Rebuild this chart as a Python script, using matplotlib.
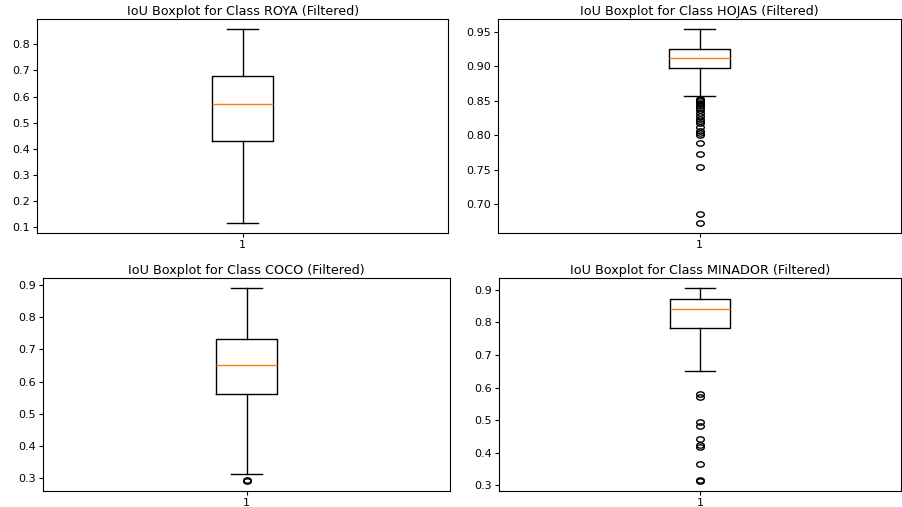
import numpy as np
import matplotlib.pyplot as plt
from matplotlib.path import Path
from matplotlib.transforms import Affine2D

classes = ['ROYA', 'HOJAS', 'COCO', 'MINADOR']

# five-number summaries per class (IoU)
q1 = [0.430, 0.8975, 0.560, 0.783]
med = [0.572, 0.9125, 0.651, 0.840]
q3 = [0.677, 0.9246, 0.731, 0.8725]
whislo = [0.113, 0.857, 0.313, 0.652]
whishi = [0.859, 0.9544, 0.892, 0.907]

# outlier IoU values per class
fliers = [
    [],
    [0.853, 0.851, 0.849, 0.847, 0.845, 0.842, 0.839, 0.836, 0.832, 0.828,
     0.824, 0.820, 0.817, 0.812, 0.806, 0.803, 0.800, 0.788, 0.772, 0.754,
     0.6856, 0.6716],
    [0.291, 0.294],
    [0.571, 0.580, 0.483, 0.494, 0.442, 0.425, 0.417, 0.366, 0.313, 0.316],
]

# axes rectangles [left, bottom, width, height]
rects = [
    [0.041, 0.540, 0.456, 0.422],
    [0.552, 0.540, 0.447, 0.422],
    [0.048, 0.032, 0.451, 0.420],
    [0.553, 0.032, 0.446, 0.420],
]

# slightly flattened circle for the outlier markers
oval = Path.unit_circle().transformed(Affine2D().scale(1.0, 0.7))

fig = plt.figure(figsize=(9.02, 5.07), dpi=100)

for i, name in enumerate(classes):
    ax = fig.add_axes(rects[i])
    stats = [{
        'med': med[i], 'q1': q1[i], 'q3': q3[i],
        'whislo': whislo[i], 'whishi': whishi[i],
        'fliers': fliers[i], 'label': '1',
    }]
    ax.bxp(stats, showfliers=True,
           flierprops=dict(marker=oval, markersize=5.5, markerfacecolor='none',
                           markeredgecolor='black', markeredgewidth=1.0),
           boxprops=dict(linewidth=1.0), whiskerprops=dict(linewidth=1.0),
           capprops=dict(linewidth=1.0), medianprops=dict(linewidth=1.0))
    ax.set_title(f'IoU Boxplot for Class {name} (Filtered)', fontsize=9.2, pad=3)
    ax.tick_params(labelsize=8, length=3, pad=2)
    for sp in ax.spines.values():
        sp.set_linewidth(0.8)

fig.savefig('out.png', dpi=100)
